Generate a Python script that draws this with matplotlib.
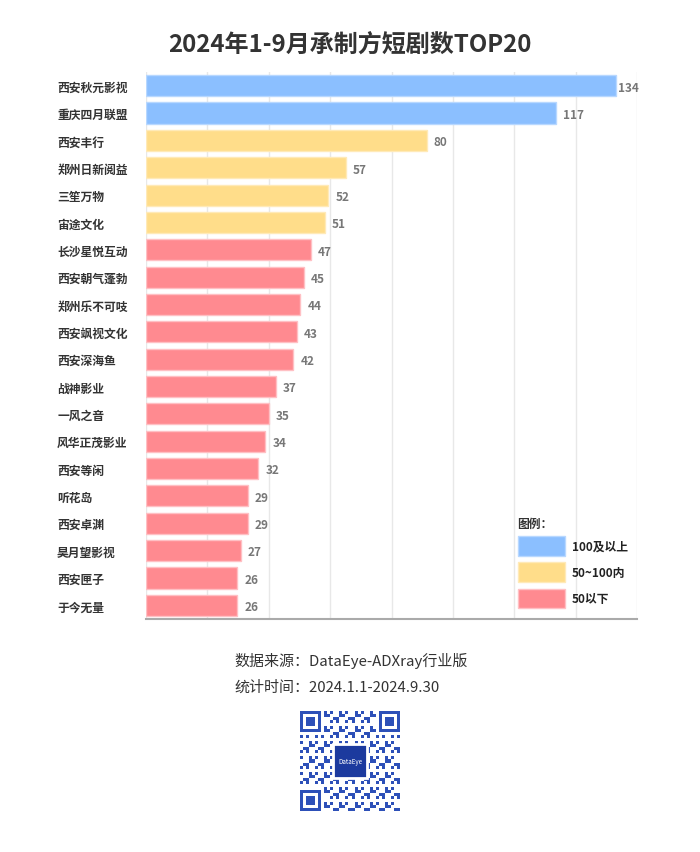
import numpy as np
import matplotlib.pyplot as plt
from matplotlib.patches import Patch, Rectangle
from matplotlib.colors import ListedColormap

plt.rcParams['font.family'] = ['Noto Sans CJK SC', 'DejaVu Sans']

# data
companies = ['西安秋元影视', '重庆四月联盟', '西安丰行', '郑州日新阅益', '三笙万物',
             '宙途文化', '长沙星悦互动', '西安朝气蓬勃', '郑州乐不可吱', '西安飒视文化',
             '西安深海鱼', '战神影业', '一风之音', '风华正茂影业', '西安等闲',
             '听花岛', '西安卓渊', '昊月望影视', '西安匣子', '于今无量']
counts = [134, 117, 80, 57, 52, 51, 47, 45, 44, 43, 42, 37, 35, 34, 32, 29, 29, 27, 26, 26]
legend_labels = ['100及以上', '50~100内', '50以下']

c_blue = '#8bbfff'
c_yellow = '#ffdd8a'
c_red = '#ff8a90'


def pick_color(v):
    if v >= 100:
        return c_blue
    elif v >= 50:
        return c_yellow
    return c_red


fig = plt.figure(figsize=(7, 8.53), dpi=100)
ax = fig.add_axes([146 / 700, 1 - 620 / 853, (637 - 146) / 700, (620 - 73) / 853])

ypos = np.arange(len(companies))
colors = [pick_color(v) for v in counts]
edges = ['#ffc0c4' if c == c_red else ('#ffeab8' if c == c_yellow else '#b8d8ff') for c in colors]
ax.barh(ypos, counts, height=0.77, color=colors, edgecolor=edges, linewidth=1, zorder=2)

xmax = 140
ax.set_xlim(0, xmax)
ax.set_ylim(len(companies) - 0.5, -0.5)
ax.set_xticks(np.arange(0, xmax + 0.1, 17.5))
ax.xaxis.grid(True, color='#e8e8e8', linewidth=1, zorder=0)
ax.tick_params(axis='x', length=0, labelbottom=False)
ax.tick_params(axis='y', length=0, pad=64)
ax.set_yticks(ypos)
ax.set_yticklabels(companies, fontsize=8.5, fontweight='bold', color='#333333')
for lab in ax.get_yticklabels():
    lab.set_horizontalalignment('left')

for s in ['top', 'right', 'left']:
    ax.spines[s].set_visible(False)
ax.spines['bottom'].set_color('#aaaaaa')
ax.spines['bottom'].set_linewidth(1.5)

for y, v in zip(ypos, counts):
    ax.text(min(v + 2, xmax - 5.4), y + 0.05, str(v), va='center', ha='left',
            fontsize=8.5, color='#777777', fontweight='bold')

handles = [Patch(facecolor=c_blue, edgecolor='#b8d8ff'),
           Patch(facecolor=c_yellow, edgecolor='#ffeab8'),
           Patch(facecolor=c_red, edgecolor='#ffc0c4')]
leg = ax.legend(handles, legend_labels, title='图例：', loc='lower left',
                bbox_to_anchor=(0.735, 0.0), frameon=False,
                handlelength=4.0, handleheight=2.2, labelspacing=0.55,
                handletextpad=0.6, alignment='left',
                prop={'size': 8.5, 'weight': 'bold'}, title_fontproperties={'size': 8.5, 'weight': 'bold'})
leg.get_title().set_color('#333333')
for t in leg.get_texts():
    t.set_color('#222222')

fig.text(0.5, 1 - 45 / 853, '2024年1-9月承制方短剧数TOP20', ha='center', va='center',
         fontsize=17.3, fontweight='bold', color='#333333')

fig.text(234 / 700, 1 - 661 / 853, '数据来源：DataEye-ADXray行业版', ha='left', va='center',
         fontsize=10.8, color='#333333')
fig.text(234 / 700, 1 - 688 / 853, '统计时间：2024.1.1-2024.9.30', ha='left', va='center',
         fontsize=10.8, color='#333333')

# QR code style block (decorative)
n = 33
ii, jj = np.meshgrid(np.arange(n), np.arange(n), indexing='ij')
qr = (((ii * ii * 3 + jj * jj * 5 + ii * jj * 7 + ii + 2 * jj) % 5) < 2).astype(int)


def finder(r, c):
    qr[max(r - 1, 0):r + 8, max(c - 1, 0):c + 8] = 0
    qr[r:r + 7, c:c + 7] = 1
    qr[r + 1:r + 6, c + 1:c + 6] = 0
    qr[r + 2:r + 5, c + 2:c + 5] = 1


finder(0, 0)
finder(0, n - 7)
finder(n - 7, 0)

qax = fig.add_axes([300 / 700, 1 - 812 / 853, 100 / 700, 100 / 853])
qax.imshow(qr, cmap=ListedColormap(['white', '#2d50b8']), interpolation='nearest')
qax.add_patch(Rectangle((10.5, 10.5), 11, 11, facecolor='#1c3a9e', edgecolor='white', linewidth=2, zorder=3))
qax.text(16, 16, 'DataEye', color='white', fontsize=4.5, ha='center', va='center', zorder=4)
qax.axis('off')

fig.savefig('out.png', dpi=100, facecolor='white')
